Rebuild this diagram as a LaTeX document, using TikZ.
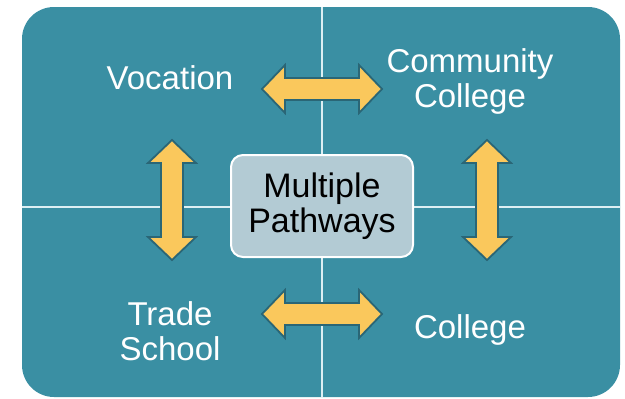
\documentclass[tikz,border=0pt]{standalone}
\usepackage{fontspec}
\setmainfont{Liberation Sans}
\definecolor{bgteal}{HTML}{3A8FA3}
\definecolor{gridline}{HTML}{DDEFF3}
\definecolor{boxfill}{HTML}{B3CBD4}
\definecolor{arrowfill}{HTML}{FAC85C}
\definecolor{arrowline}{HTML}{2A6676}
\tikzset{
  lbl/.style={text=white, align=center, font=\fontsize{33}{35}\selectfont, inner sep=0pt},
  centerbox/.style={draw=white, line width=2pt, fill=boxfill, rounded corners=12pt,
    minimum width=182pt, minimum height=102pt, align=center, inner sep=0pt,
    font=\fontsize{34}{35}\selectfont, text=black},
  blockarrow/.style={fill=arrowfill, draw=arrowline, line width=1.8pt, line join=miter},
  gridstyle/.style={draw=gridline, line width=2.2pt}
}
\newcommand{\dblarrow}[3]{% cx, cy, rotation
  \draw[blockarrow, shift={(#1,#2)}, rotate=#3]
    (-60,0) -- (-37,-24) -- (-37,-11) -- (37,-11) -- (37,-24) -- (60,0)
    -- (37,24) -- (37,11) -- (-37,11) -- (-37,24) -- cycle;}
\begin{document}
\begin{tikzpicture}[x=1pt,y=-1pt]
\useasboundingbox (0,0) rectangle (625,399);
\fill[bgteal, rounded corners=32pt] (22,7) rectangle (620,397);
\coordinate (gt) at (322,7);
\coordinate (gb) at (322,397);
\coordinate (gl) at (22,207);
\coordinate (gr) at (620,207);
\draw[gridstyle] (gt) -- (gb);
\draw[gridstyle] (gl) -- (gr);
\node[centerbox] (mp) at (322,206) {Multiple\\Pathways};
\node[lbl] (voc) at (170,78) {Vocation};
\node[lbl] (cc) at (470,81) {Community\\College};
\node[lbl] (ts) at (170,331) {Trade\\School};
\node[lbl] (col) at (470,330) {College};
\dblarrow{322}{89}{0}
\dblarrow{322}{314}{0}
\dblarrow{172}{200}{90}
\dblarrow{487}{200}{90}
\end{tikzpicture}
\end{document}
